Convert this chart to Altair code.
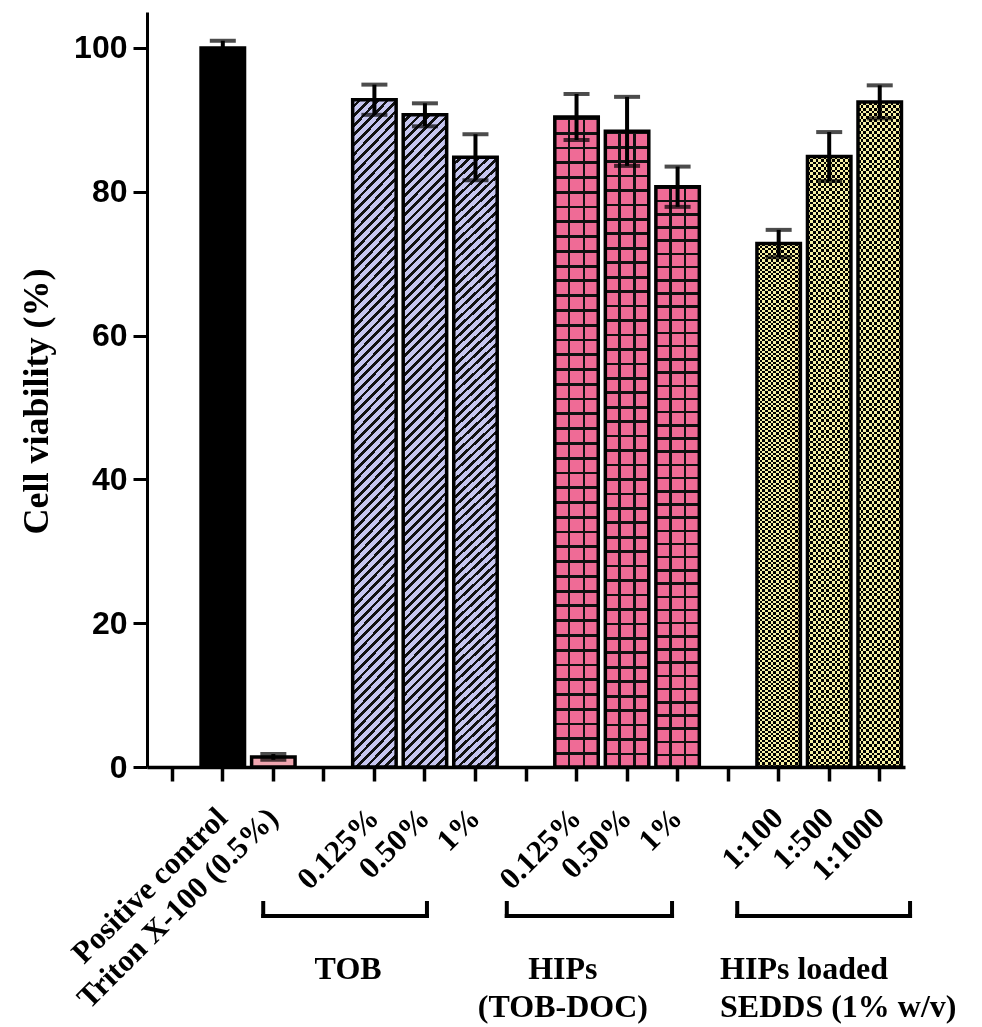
import altair as alt
import pandas as pd

# ---------------- data ----------------
slot_labels = ["", "Positive control", "Triton X-100 (0.5%)", "",
               "0.125%", "0.50%", "1%", "",
               "0.125%", "0.50%", "1%", "",
               "1:100", "1:500", "1:1000"]
slot_groups = ["gap", "pc", "tx", "gap",
               "tob", "tob", "tob", "gap",
               "hip", "hip", "hip", "gap",
               "sedds", "sedds", "sedds"]
viability = [None, 100.0, 1.4, None,
             92.8, 90.7, 84.8, None,
             90.4, 88.4, 80.7, None,
             72.8, 84.9, 92.5]
sem = [None, 1.0, 0.4, None,
       2.1, 1.6, 3.2, None,
       3.2, 4.8, 2.8, None,
       1.9, 3.4, 2.3]

group_titles = ["TOB", "HIPs\n(TOB-DOC)", "HIPs loaded\nSEDDS (1% w/v)"]
bracket_start = [2.30, 7.12, 11.68]   # in slot units
bracket_end = [5.54, 10.39, 15.10]
title_at = [3.98, 8.23, 11.34]

keys = [f"{i:02d}|{lab}" for i, lab in enumerate(slot_labels)]
df = pd.DataFrame({"key": keys, "group": slot_groups,
                   "viability": viability, "sem": sem})
ann = pd.DataFrame({"title": group_titles, "start": bracket_start,
                    "end": bracket_end, "title_at": title_at})

# ---------------- pattern fills (gradients) ----------------
def stripe_stops(n, duty, c_off, c_on):
    stops = []
    for k in range(n):
        a = k / n
        b = (k + 1 - duty) / n
        c = (k + 1) / n
        stops += [{"offset": round(a, 5), "color": c_off},
                  {"offset": round(b, 5), "color": c_off},
                  {"offset": round(b, 5), "color": c_on},
                  {"offset": round(c, 5), "color": c_on}]
    return stops

LAV = "#C6C6EF"
PINK = "#EF6B96"
YEL = "#F6EFA2"
CLEAR = "rgba(0,0,0,0)"

W, H = 43.5, 650.0
s = (W + H) / (W * W + H * H)
tob_fill = {"gradient": "linear", "x1": 0, "y1": 0, "x2": round(W * s, 5), "y2": round(H * s, 5),
            "stops": stripe_stops(74, 0.4, LAV, "#111111")}
hip_rows = {"gradient": "linear", "x1": 0, "y1": 1, "x2": 0, "y2": 0,
            "stops": stripe_stops(44, 0.19, CLEAR, "#111111")}
hip_cols = {"gradient": "linear", "x1": 0, "y1": 0, "x2": 1, "y2": 0,
            "stops": [{"offset": 0, "color": CLEAR}, {"offset": 0.30, "color": CLEAR},
                      {"offset": 0.30, "color": "#111111"}, {"offset": 0.36, "color": "#111111"},
                      {"offset": 0.36, "color": CLEAR}, {"offset": 0.64, "color": CLEAR},
                      {"offset": 0.64, "color": "#111111"}, {"offset": 0.70, "color": "#111111"},
                      {"offset": 0.70, "color": CLEAR}, {"offset": 1, "color": CLEAR}]}
sed_cols = {"gradient": "linear", "x1": 0, "y1": 0, "x2": 1, "y2": 0,
            "stops": stripe_stops(8, 0.5, CLEAR, YEL)}
sed_rows = {"gradient": "linear", "x1": 0, "y1": 1, "x2": 0, "y2": 0,
            "stops": stripe_stops(115, 0.5, CLEAR, YEL)}

# ---------------- encodings ----------------
x_axis = alt.Axis(title=None, labelAngle=-45, labelAlign="right", labelBaseline="middle",
                  labelFont="Liberation Serif", labelFontWeight="bold", labelFontSize=31,
                  labelColor="black", labelLimit=0, labelOverlap=False, labelPadding=32,
                  labelExpr="split(datum.label, '|')[1]",
                  tickSize=14, tickWidth=3.5, tickColor="black",
                  domainColor="black", domainWidth=3.5, grid=False)
x_enc = alt.X("key:N", scale=alt.Scale(domain=keys, paddingInner=0.14, paddingOuter=0.07),
              axis=x_axis)

y_axis = alt.Axis(title="Cell viability (%)", values=[0, 20, 40, 60, 80, 100],
                  labelFont="Liberation Sans", labelFontWeight="bold", labelFontSize=32,
                  labelColor="black", labelPadding=6,
                  tickSize=14, tickWidth=3, tickColor="black",
                  domainColor="black", domainWidth=3, grid=False,
                  titleFont="Liberation Serif", titleFontSize=36, titleFontWeight="bold",
                  titleColor="black", titleX=-100, titleY=389, titleAngle=270,
                  titleAlign="center", titleBaseline="alphabetic")
y_scale = alt.Scale(domain=[0, 105], nice=False, zero=True)
y_enc = alt.Y("viability:Q", scale=y_scale, axis=y_axis)

base = alt.Chart(df)


def bars(group, **mk):
    return base.transform_filter(f"datum.group == '{group}'").mark_bar(**mk).encode(x=x_enc, y=y_enc)


pc = bars("pc", fill="black")
tx = bars("tx", fill="#F0A6B0")
tob = bars("tob", fill=tob_fill)
hip = bars("hip", fill=PINK)
hip_h = bars("hip", fill=hip_rows)
hip_v = bars("hip", fill=hip_cols)
sed = bars("sedds", fill=YEL)
sed_a = bars("sedds", fill=sed_cols, blend="difference")
sed_b = bars("sedds", fill=sed_rows, blend="difference")

outline = base.transform_filter("isValid(datum.viability)").mark_bar(
    fill="white", fillOpacity=0, stroke="black", strokeWidth=3.5
).encode(x=x_enc, y=y_enc)

err = base.transform_filter("isValid(datum.sem)").transform_calculate(
    lo="datum.viability - datum.sem", hi="datum.viability + datum.sem")
err_rule = err.mark_rule(color="black", strokeWidth=4).encode(
    x=x_enc, y=alt.Y("lo:Q", scale=y_scale, axis=y_axis), y2="hi:Q")
err_lo = err.mark_tick(color="black", thickness=4, size=26).encode(
    x=x_enc, y=alt.Y("lo:Q", scale=y_scale, axis=y_axis))
err_hi = err.mark_tick(color="black", thickness=4, size=26).encode(
    x=x_enc, y=alt.Y("hi:Q", scale=y_scale, axis=y_axis))

main = alt.layer(pc, tx, tob, hip, hip_h, hip_v, sed, sed_a, sed_b, outline,
                 err_rule, err_lo, err_hi)

# ---------------- annotations below the axis ----------------
abase = alt.Chart(ann)
xs = alt.Scale(domain=[0, 15], nice=False, zero=False)
br_h = abase.mark_rule(color="black", strokeWidth=4, strokeCap="square").encode(
    x=alt.X("start:Q", scale=xs, axis=None), x2="end:Q", y=alt.value(904))
br_l = abase.mark_rule(color="black", strokeWidth=4, strokeCap="square").encode(
    x=alt.X("start:Q", scale=xs, axis=None), y=alt.value(891), y2=alt.value(904))
br_r = abase.mark_rule(color="black", strokeWidth=4, strokeCap="square").encode(
    x=alt.X("end:Q", scale=xs, axis=None), y=alt.value(891), y2=alt.value(904))
txt_c = abase.transform_filter("indexof(datum.title, 'SEDDS') < 0").mark_text(
    font="Liberation Serif", fontWeight="bold", fontSize=32, align="center",
    baseline="alphabetic", lineBreak="\n", lineHeight=38, color="black"
).encode(x=alt.X("title_at:Q", scale=xs, axis=None), y=alt.value(967), text="title:N")
txt_l = abase.transform_filter("indexof(datum.title, 'SEDDS') >= 0").mark_text(
    font="Liberation Serif", fontWeight="bold", fontSize=32, align="left",
    baseline="alphabetic", lineBreak="\n", lineHeight=38, color="black"
).encode(x=alt.X("title_at:Q", scale=xs, axis=None), y=alt.value(967), text="title:N")

annot = alt.layer(br_h, br_l, br_r, txt_c, txt_l)

chart = alt.layer(main, annot).resolve_scale(x="independent").properties(
    width=758, height=755,
    padding={"left": 139, "top": 4, "right": 65, "bottom": 257},
    autosize=alt.AutoSizeParams(type="none"),
    background="white",
).configure_view(strokeWidth=0)

chart.save("out.html", embed_options={"renderer": "svg", "actions": False})
